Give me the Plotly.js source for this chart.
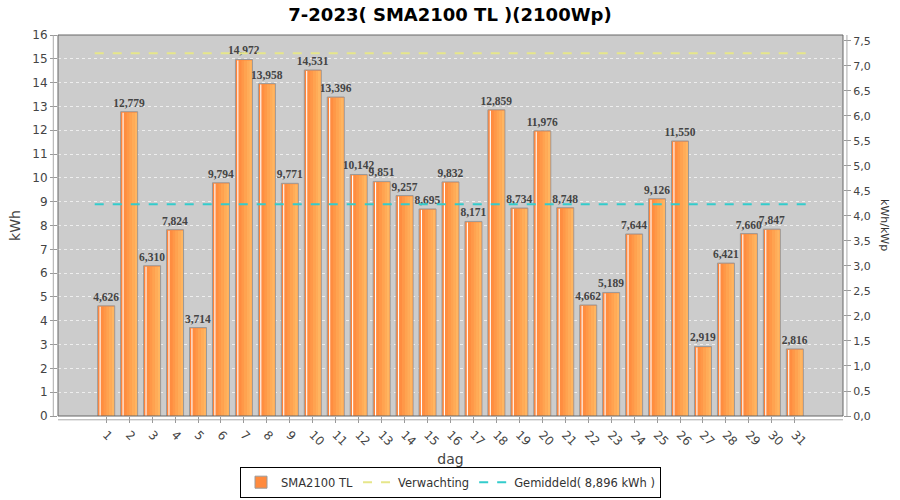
<!DOCTYPE html>
<html><head><meta charset="utf-8">
<script src="https://cdn.plot.ly/plotly-3.0.1.min.js"></script>
<style>html,body{margin:0;padding:0;background:#fff}#chart{width:900px;height:500px}</style>
</head><body><div id="chart"></div>
<script>
const days = [1,2,3,4,5,6,7,8,9,10,11,12,13,14,15,16,17,18,19,20,21,22,23,24,25,26,27,28,29,30,31];
const kwh = [4.626,12.779,6.310,7.824,3.714,9.794,14.972,13.958,9.771,14.531,13.396,10.142,9.851,9.257,8.695,9.832,8.171,12.859,8.734,11.976,8.748,4.662,5.189,7.644,9.126,11.550,2.919,6.421,7.660,7.847,2.816];
const expected = 15.23;
const average = 8.896;
const wp = 2100;
const titleText = '7-2023( SMA2100 TL )(2100Wp)';

const BW = 0.74;
const traces = [];
// base bar with outline and labels
traces.push({type:'bar', x:days, y:kwh, name:'SMA2100 TL', width:BW,
  marker:{color:'#FF8A3D', line:{color:'#9a9a9a', width:1}},
  text:kwh, texttemplate:'%{y:.3f}', textposition:'outside', cliponaxis:false, constraintext:'none',
  textfont:{family:'Liberation Serif', size:11.5, color:'#444', weight:'bold'},
  hoverinfo:'skip'});
// gradient slices
const slices = ['#FF8238','#FF8D40','#FF9848','#FFA350','#FFAC58','#FFB560'];
const inner = BW - 0.06;
const sw = inner / slices.length;
slices.forEach((c,i)=>{
  traces.push({type:'bar', x:days, y:kwh.map(v=>v-0.04), base:0, width:sw+0.005, offset:-inner/2 + i*sw,
    marker:{color:c, line:{width:0}}, showlegend:false, hoverinfo:'skip'});
});
// white highlight stripe
traces.push({type:'bar', x:days, y:kwh.map(v=>v-0.04), width:0.05, offset:-BW/2+0.08,
  marker:{color:'#FFFFFF', line:{width:0}}, showlegend:false, hoverinfo:'skip'});
// lines
const lx = [days[0]-0.5, days[days.length-1]+0.5];
traces.push({type:'scatter', mode:'lines', x:lx, y:[expected,expected], name:'Verwachting',
  line:{color:'#E6E68A', width:2, dash:'dash'}, hoverinfo:'skip'});
traces.push({type:'scatter', mode:'lines', x:lx, y:[average,average], name:'Gemiddeld( 8,896 kWh )',
  line:{color:'#33CCCC', width:2, dash:'dash'}, hoverinfo:'skip'});
// invisible trace on right axis
traces.push({type:'scatter', mode:'markers', x:days, y:kwh.map(v=>v*1000/wp), yaxis:'y2',
  marker:{opacity:0}, showlegend:false, hoverinfo:'skip'});

const tickFont = {family:'DejaVu Sans', size:12, color:'#444'};
const layout = {
  width:900, height:500,
  margin:{l:58, r:57, t:35, b:84, autoexpand:false},
  paper_bgcolor:'#fff', plot_bgcolor:'#CCCCCC',
  separators:',.',
  barmode:'overlay',
  title:{text:titleText, x:0.5, xanchor:'center', y:0.97, yanchor:'middle',
    font:{family:'DejaVu Sans', size:18, color:'#000', weight:'bold'}},
  xaxis:{range:[-1.1,33.1], tickvals:days, ticktext:days.map(String), tickangle:45,
    ticks:'outside', ticklen:6, tickcolor:'#999', tickfont:tickFont, showgrid:false, zeroline:false,
    title:{text:'dag', font:{family:'DejaVu Sans', size:14, color:'#444'}, standoff:6}},
  yaxis:{range:[0,16], dtick:1, tick0:0, ticks:'outside', ticklen:7, tickcolor:'#999', tickfont:tickFont,
    gridcolor:'#EEEEEE', griddash:'3px,3px', gridwidth:1, zeroline:false,
    title:{text:'kWh', font:{family:'DejaVu Sans', size:14, color:'#444'}, standoff:8}},
  yaxis2:{overlaying:'y', side:'right', range:[0,16*1000/wp], dtick:0.5, tick0:0, tickformat:'.1f',
    ticks:'outside', ticklen:7, tickcolor:'#999', tickfont:{family:'DejaVu Sans', size:11, color:'#444'}, showgrid:false, zeroline:false},
  legend:{orientation:'h', x:0.5, xanchor:'center', y:-0.133, yanchor:'top',
    bordercolor:'#000', borderwidth:1, bgcolor:'#fff',
    font:{family:'DejaVu Sans', size:11.5, color:'#333'}, itemwidth:30, tracegroupgap:0},
  shapes:[
    {type:'rect', xref:'paper', yref:'paper', x0:0, x1:1, y0:0, y1:1, line:{color:'#666', width:1}},
    {type:'line', xref:'paper', yref:'paper', x0:-0.006, x1:-0.006, y0:0, y1:1, line:{color:'#aaa', width:1}},
    {type:'line', xref:'paper', yref:'paper', x0:1.005, x1:1.005, y0:0, y1:1, line:{color:'#aaa', width:1}},
    {type:'line', xref:'paper', yref:'paper', x0:0, x1:1, y0:-0.01, y1:-0.01, line:{color:'#aaa', width:1}}
  ],
  annotations:[
    {text:'kWh/kWp', xref:'paper', yref:'paper', x:1.042, y:0.5, xanchor:'left', yanchor:'middle',
     showarrow:false, textangle:90, font:{family:'DejaVu Sans', size:11, color:'#333'}}
  ]
};
Plotly.newPlot('chart', traces, layout, {displayModeBar:false, staticPlot:true});
</script></body></html>
